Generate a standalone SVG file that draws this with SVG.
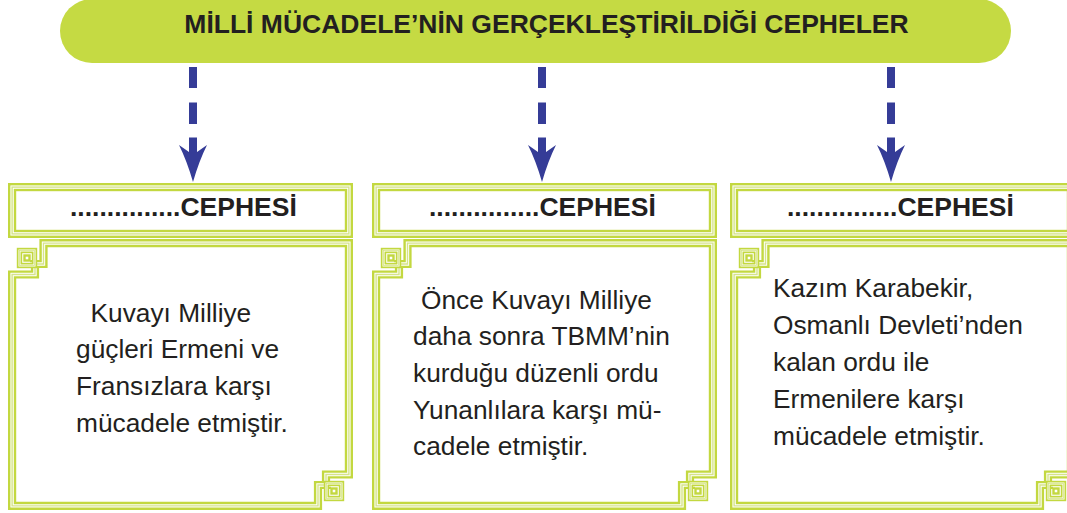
<svg xmlns="http://www.w3.org/2000/svg" xmlns:xlink="http://www.w3.org/1999/xlink" width="1067" height="513" viewBox="0 0 1067 513">
<style>
.l1{fill:none;stroke:#c3d840;stroke-width:8.2}
.l2{fill:none;stroke:#ffffff;stroke-width:3.4}
.l3{fill:none;stroke:#d6e48a;stroke-width:1.4}
.s1{fill:none;stroke:#c3d840;stroke-width:5.4}
.s2{fill:none;stroke:#ffffff;stroke-width:2}
.s3{fill:none;stroke:#d6e48a;stroke-width:0.8}
.hd{font-family:"Liberation Sans",Arial,sans-serif;font-weight:bold;font-size:26.5px;fill:#231f20}
.tx{font-family:"Liberation Sans",Arial,sans-serif;font-size:26.3px;fill:#231f20}
.arr{fill:#353c97}
</style>
<defs>
<g id="geom">
<rect x="4.1" y="4.1" width="336.8" height="46.8"/>
<path d="M27 78V91.5H4.1V322.9H310V302H323"/>
<path d="M22 81H35.5V60.1H340.9V291.5H318V305"/>
</g>
<rect id="sqg" x="11.5" y="67.5" width="15" height="15"/>
<g id="knot">
<use href="#sqg" class="s1"/><use href="#sqg" class="s2"/><use href="#sqg" class="s3"/>
<rect x="16.5" y="72.5" width="5" height="5" fill="none" stroke="#c3d840" stroke-width="2.4"/>
</g>
<g id="frame">
<use href="#geom" class="l1"/><use href="#geom" class="l2"/><use href="#geom" class="l3"/>
<use href="#knot"/>
<use href="#knot" transform="rotate(180 172.5 191.5)"/>
</g>
</defs>

<g id="title">
<rect x="60" y="-1" width="951" height="64" rx="32" fill="#c5da43"/>
<text class="hd" x="546.5" y="33" text-anchor="middle">MİLLİ MÜCADELE’NİN GERÇEKLEŞTİRİLDİĞİ CEPHELER</text>
</g>

<g id="connectors">
<g id="arrow1" transform="translate(193 0)">
<rect class="arr" x="-4" y="67" width="8" height="21"/>
<rect class="arr" x="-4" y="102.5" width="8" height="21.5"/>
<path class="arr" d="M-4 137.5H4V152L14 145Q6 161 0 182Q-6 161 -14 145L-4 152Z"/>
</g>
<g id="arrow2" transform="translate(542 0)">
<rect class="arr" x="-4" y="67" width="8" height="21"/>
<rect class="arr" x="-4" y="102.5" width="8" height="21.5"/>
<path class="arr" d="M-4 137.5H4V152L14 145Q6 161 0 182Q-6 161 -14 145L-4 152Z"/>
</g>
<g id="arrow3" transform="translate(891 0)">
<rect class="arr" x="-4" y="67" width="8" height="21"/>
<rect class="arr" x="-4" y="102.5" width="8" height="21.5"/>
<path class="arr" d="M-4 137.5H4V152L14 145Q6 161 0 182Q-6 161 -14 145L-4 152Z"/>
</g>
</g>

<g id="box1">
<use href="#frame" transform="translate(8 183)"/>
<text class="hd" x="70" y="215.5">...............CEPHESİ</text>
<text class="tx" x="90.5" y="321.7">Kuvayı Milliye</text>
<text class="tx" x="76" y="358.3">güçleri Ermeni ve</text>
<text class="tx" x="76" y="395">Fransızlara karşı</text>
<text class="tx" x="76" y="431.7">mücadele etmiştir.</text>
</g>

<g id="box2">
<use href="#frame" transform="translate(372 183)"/>
<text class="hd" x="429" y="215.5">...............CEPHESİ</text>
<text class="tx" x="421" y="308.5">Önce Kuvayı Milliye</text>
<text class="tx" x="413" y="345.2">daha sonra TBMM’nin</text>
<text class="tx" x="413" y="381.9">kurduğu düzenli ordu</text>
<text class="tx" x="413" y="418.6">Yunanlılara karşı mü-</text>
<text class="tx" x="413" y="455.3">cadele etmiştir.</text>
</g>

<g id="box3">
<use href="#frame" transform="translate(730 183)"/>
<text class="hd" x="787" y="215.5">...............CEPHESİ</text>
<text class="tx" x="773" y="297">Kazım Karabekir,</text>
<text class="tx" x="773" y="334">Osmanlı Devleti’nden</text>
<text class="tx" x="773" y="371">kalan ordu ile</text>
<text class="tx" x="773" y="408">Ermenilere karşı</text>
<text class="tx" x="773" y="445">mücadele etmiştir.</text>
</g>
</svg>
